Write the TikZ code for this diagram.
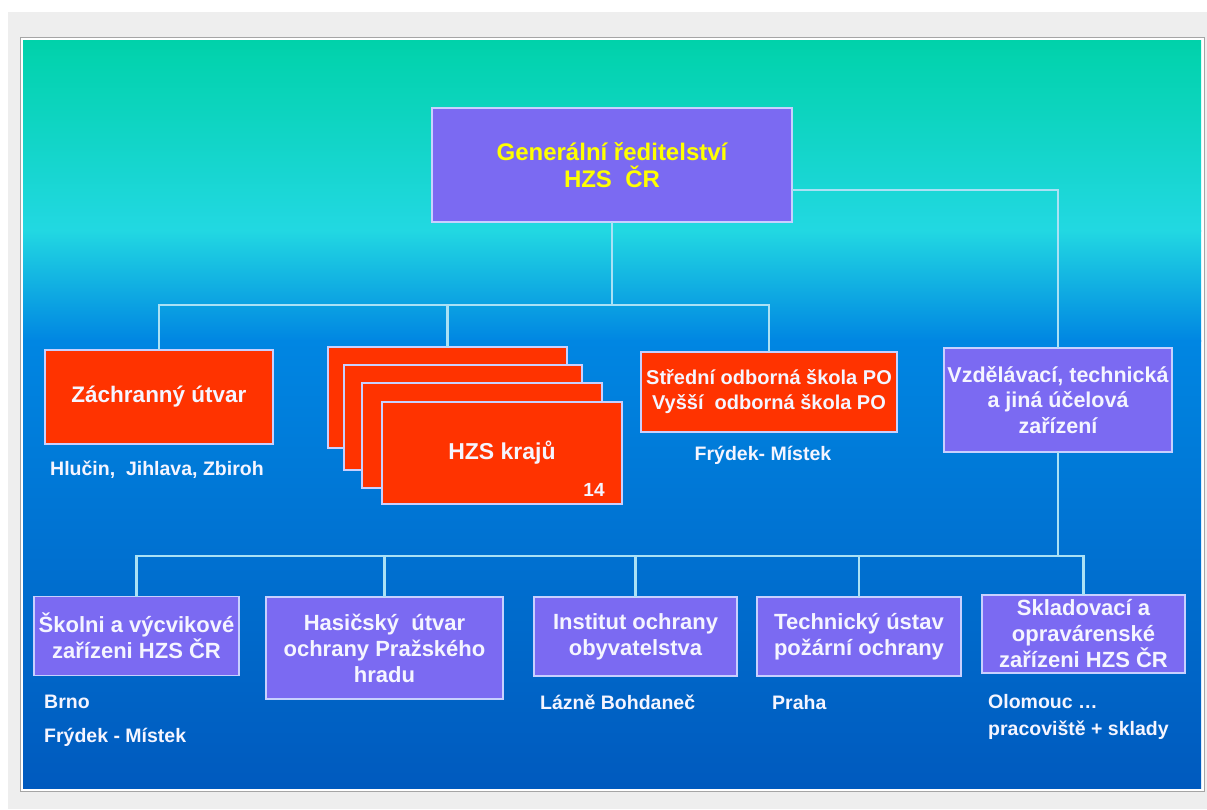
\documentclass[tikz,border=0pt]{standalone}
\usepackage{fontspec}
\setmainfont{Liberation Sans}
\definecolor{bgTeal}{RGB}{0,210,170}
\definecolor{bgCyan}{RGB}{34,216,226}
\definecolor{bgBlue}{RGB}{0,134,226}
\definecolor{bgDeep}{RGB}{0,90,190}
\definecolor{boxPurple}{RGB}{123,106,242}
\definecolor{boxRed}{RGB}{255,51,0}
\definecolor{edgeLight}{RGB}{200,208,255}
\definecolor{lineLight}{RGB}{170,225,245}
\definecolor{txtYellow}{RGB}{255,255,0}
\definecolor{txtWhite}{RGB}{245,245,255}
\definecolor{pageGray}{RGB}{238,238,238}
\definecolor{frameGray}{RGB}{165,165,165}
\begin{document}
\begin{tikzpicture}[x=1pt,y=-1pt,
  basebox/.style={draw=edgeLight,line width=1.5pt,inner sep=0pt,outer sep=0pt,align=center,font=\bfseries},
  purplebox/.style={basebox,fill=boxPurple,text=txtWhite},
  redbox/.style={basebox,fill=boxRed,text=txtWhite},
  btext/.style={font=\bfseries\fontsize{22}{26}\selectfont},
  conn/.style={draw=lineLight,line width=2.5pt},
  lbl/.style={text=txtWhite,font=\bfseries\fontsize{19.5}{27}\selectfont,anchor=west,inner sep=0pt}]
\useasboundingbox (0,0) rectangle (1207,809);
\fill[white] (0,0) rectangle (1207,809);
\fill[pageGray] (8,12) rectangle (1207,809);
\draw[frameGray,fill=white,line width=1pt] (20,37) rectangle (1204,791);
\shade[top color=bgTeal,bottom color=bgCyan] (23,40) rectangle (1201,231);
\shade[top color=bgCyan,bottom color=bgBlue] (23,230) rectangle (1201,341);
\shade[top color=bgBlue,bottom color=bgDeep] (23,340) rectangle (1201,788);

% top
\node[purplebox,minimum width=360pt,minimum height=114pt,text=txtYellow,
  font=\bfseries\fontsize{24}{27}\selectfont] (gen) at (612,165) {Generální ředitelství\\HZS~~ČR};

% second row
\node[redbox,minimum width=228pt,minimum height=94pt,font=\bfseries\fontsize{22.5}{26}\selectfont] (zach) at (159,397) {Záchranný útvar};
\node[redbox,minimum width=239pt,minimum height=101pt] (kr1) at (447.5,397.5) {};
\node[redbox,minimum width=238pt,minimum height=105pt] (kr2) at (463,417.5) {};
\node[redbox,minimum width=240pt,minimum height=105pt] (kr3) at (482,435.5) {};
\node[redbox,minimum width=240pt,minimum height=102pt,font=\bfseries\fontsize{23}{26}\selectfont] (kr4) at (502,453) {HZS krajů};
\node[text=txtWhite,font=\bfseries\fontsize{19}{22}\selectfont,inner sep=0pt] (kr14) at (594,490) {14};
\node[redbox,minimum width=256pt,minimum height=80pt,font=\bfseries\fontsize{20}{25}\selectfont] (sos) at (769,392) {Střední odborná škola PO\\Vyšší~~odborná škola PO};
\node[purplebox,minimum width=228pt,minimum height=104pt,font=\bfseries\fontsize{21.5}{25.5}\selectfont] (vzd) at (1058,400) {Vzdělávací, technická\\a jiná účelová\\zařízení};

% bottom row
\node[purplebox,btext,minimum width=205pt,minimum height=79pt] (sko) at (136.5,636) {Školni a výcvikové\\zařízeni HZS ČR};
\node[purplebox,btext,minimum width=237pt,minimum height=102pt] (has) at (384.5,648) {Hasičský~ útvar\\ochrany Pražského\\hradu};
\node[purplebox,btext,minimum width=203pt,minimum height=79pt] (ins) at (635.5,636.5) {Institut ochrany\\obyvatelstva};
\node[purplebox,btext,minimum width=204pt,minimum height=79pt] (tec) at (859,636.5) {Technický ústav\\požární ochrany};
\node[purplebox,btext,minimum width=203pt,minimum height=78pt] (skl) at (1083.5,634) {Skladovací a\\opravárenské\\zařízeni HZS ČR};

% labels
\node[lbl] (lzach) at (50,470) {Hlučin,~ Jihlava, Zbiroh};
\node[lbl,anchor=center] (lsos) at (763,455) {Frýdek- Místek};
\node[lbl] (lsko1) at (44,702) {Brno};
\node[lbl] (lsko2) at (44,737) {Frýdek - Místek};
\node[lbl] (lins) at (540,702) {Lázně Bohdaneč};
\node[lbl] (ltec) at (772,703) {Praha};
\node[lbl,align=left] (lskl) at (988,716.5) {Olomouc …\\pracoviště + sklady};

% connectors
\coordinate (j1) at (612,305);
\coordinate (j2) at (1058,556);
\draw[conn] (gen.south) -- (gen.south |- j1);
\draw[conn] (zach.north) |- (sos.north |- j1) -- (sos.north);
\draw[conn] (kr1.north) -- (kr1.north |- j1);
\draw[conn] ([yshift=-25pt]gen.east) -| (vzd.north);
\draw[conn] (vzd.south) -- (j2);
\draw[conn] (sko.north) |- (skl.north |- j2) -- (skl.north);
\draw[conn] (has.north) -- (has.north |- j2);
\draw[conn] (ins.north) -- (ins.north |- j2);
\draw[conn] (tec.north) -- (tec.north |- j2);
\end{tikzpicture}
\end{document}
